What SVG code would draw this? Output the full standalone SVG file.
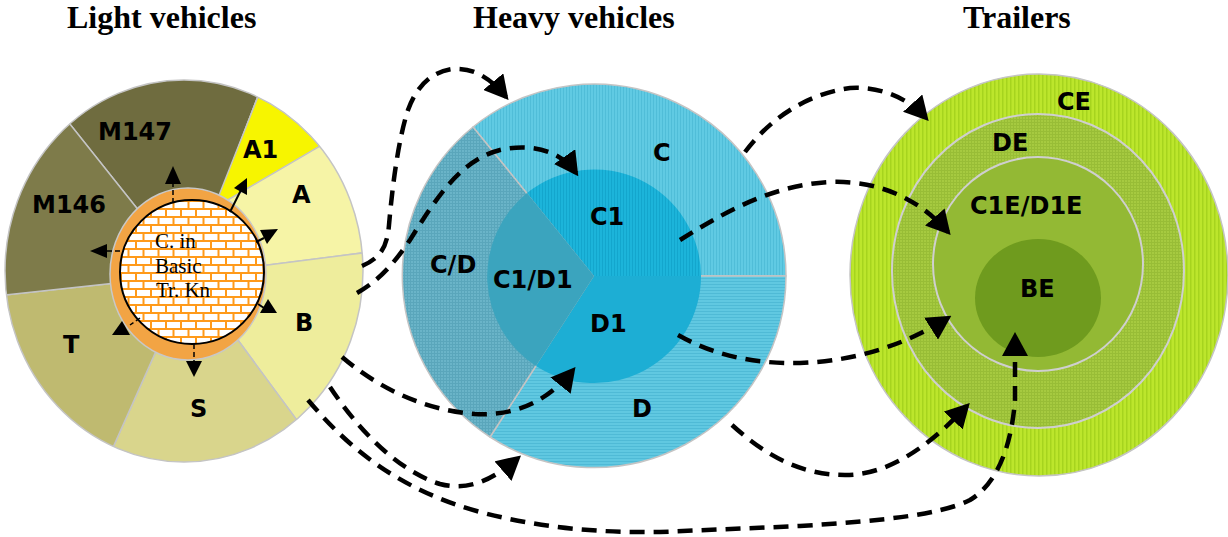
<svg xmlns="http://www.w3.org/2000/svg" width="1228" height="537" viewBox="0 0 1228 537">
<style>
.title{font-family:"Liberation Serif","Times New Roman",serif;font-weight:bold;font-size:32px;fill:#000}
.lbl{font-family:"DejaVu Sans",Verdana,sans-serif;font-weight:bold;font-size:24px;fill:#000}
.inner{font-family:"Liberation Serif","Times New Roman",serif;font-size:21px;fill:#000}
.sec{stroke:#c4c4c4;stroke-width:1.5;stroke-linejoin:round}
.conn{fill:none;stroke:#000;stroke-width:4.5;stroke-dasharray:15 9}
.small{fill:none;stroke:#000;stroke-width:1.5;stroke-dasharray:5 3}
.solid{fill:none;stroke:#000;stroke-width:2}
.head{fill:#000}
</style>
<defs>
<marker id="arr" viewBox="0 0 24 26" markerWidth="24" markerHeight="26" refX="20" refY="13" orient="auto" markerUnits="userSpaceOnUse">
<path d="M0,0 L24,13 L0,26 Z" fill="#000"/>
</marker>
<clipPath id="lvclip">
<ellipse cx="184" cy="271" rx="179" ry="191"/>
</clipPath>
<pattern id="brick" width="15" height="16" patternUnits="userSpaceOnUse">
<rect width="15" height="16" fill="#fff"/>
<path d="M0,1 H15 M0,9 H15 M1,1 V9 M8.5,9 V16" stroke="#ff9a1a" stroke-width="2" fill="none"/>
</pattern>
<pattern id="pC" width="3" height="3" patternUnits="userSpaceOnUse">
<rect width="3" height="3" fill="#60cae3"/><rect x="2" width="1" height="3" fill="#50bdd8"/>
</pattern>
<pattern id="pD" width="3" height="3" patternUnits="userSpaceOnUse">
<rect width="3" height="3" fill="#60c8e1"/><rect y="2" width="3" height="1" fill="#4fbad6"/>
</pattern>
<pattern id="pCD" width="3" height="3" patternUnits="userSpaceOnUse">
<rect width="3" height="3" fill="#6ab4c8"/><path d="M0,2.5 H3 M2.5,0 V3" stroke="#5aa6bb" stroke-width="1"/>
</pattern>
<pattern id="pC1" width="3" height="3" patternUnits="userSpaceOnUse">
<rect width="3" height="3" fill="#1cb4da"/><rect x="2" width="1" height="3" fill="#13a6cd"/>
</pattern>
<pattern id="pCE" width="4" height="4" patternUnits="userSpaceOnUse">
<rect width="4" height="4" fill="#bce62c"/><rect x="2" width="1.5" height="4" fill="#a6d41e"/>
</pattern>
<pattern id="pDE" width="3" height="3" patternUnits="userSpaceOnUse">
<rect width="3" height="3" fill="#a6ca40"/><path d="M0,2.5 H3 M2.5,0 V3" stroke="#98bd36" stroke-width="1"/>
</pattern>
</defs>

<rect width="1228" height="537" fill="#fff"/>

<g id="titles">
<text class="title" x="67" y="28">Light vehicles</text>
<text class="title" x="473" y="28">Heavy vehicles</text>
<text class="title" x="963" y="28">Trailers</text>
</g>

<g id="light-vehicles">
<g clip-path="url(#lvclip)">
<path id="M147" class="sec" fill="#6f6c3f" d="M190,275 L7,45 L290,12 Z"/>
<path id="A" class="sec" fill="#f6f4a6" d="M190,275 L290,12 L448,242 Z"/>
<path id="A1" class="sec" fill="#f7f500" d="M214,208 L278,46 L368,118 Z"/>
<path id="B" class="sec" fill="#eeed9c" d="M190,275 L448,242 L352,495 Z"/>
<path id="S" class="sec" fill="#d9d58c" d="M190,275 L352,495 L73,537 Z"/>
<path id="T" class="sec" fill="#bfba70" d="M190,275 L73,537 L-88,305 Z"/>
<path id="M146" class="sec" fill="#7e7b4a" d="M190,275 L-88,305 L7,45 Z"/>
</g>
<ellipse cx="184" cy="271" rx="179" ry="191" fill="none" stroke="#c4c4c4" stroke-width="1.5"/>
<ellipse cx="188" cy="274" rx="78" ry="86" fill="#f2a444" stroke="#c8c8c8" stroke-width="1.5"/>
<circle cx="192" cy="272" r="72" fill="url(#brick)" stroke="#000" stroke-width="2"/>
<text class="inner" x="155" y="248">C. in</text>
<text class="inner" x="155" y="273">Basic</text>
<text class="inner" x="156" y="297">Tr. Kn</text>
<text class="lbl" x="98" y="140">M147</text>
<text class="lbl" x="243" y="158">A1</text>
<text class="lbl" x="292" y="203">A</text>
<text class="lbl" x="32" y="213">M146</text>
<text class="lbl" x="295" y="331">B</text>
<text class="lbl" x="63" y="353">T</text>
<text class="lbl" x="190" y="417">S</text>
</g>

<g id="inner-arrows">
<path class="small" d="M173,203 V184"/>
<polygon class="head" points="165,184 181,184 173,166"/>
<path class="solid" d="M230,212 L241,190"/>
<polygon class="head" points="247,178 247,195 234,188"/>
<path class="solid" d="M256,242 L264,238"/>
<polygon class="head" points="260,230 278,229 267,244"/>
<path class="solid" d="M258,304 L264,308"/>
<polygon class="head" points="260,313 268,299 277,313"/>
<path class="small" d="M120,251 H107"/>
<polygon class="head" points="90,251 107,244 107,258"/>
<path class="small" d="M140,318 L130,325"/>
<polygon class="head" points="112,335 122,321 130,335"/>
<path class="small" d="M194,344 V362"/>
<polygon class="head" points="186,361 202,361 194,377"/>
</g>

<g id="heavy-vehicles">
<path id="C" class="sec" fill="url(#pC)" d="M594,276 L473,127 A192,192 0 0 1 786,276 Z"/>
<path id="D" class="sec" fill="url(#pD)" d="M594,276 L786,276 A192,192 0 0 1 490,437 Z"/>
<path id="CD" class="sec" fill="url(#pCD)" d="M594,276 L490,437 A192,192 0 0 1 473,127 Z"/>
<path id="C1" fill="url(#pC1)" d="M594,276 L527,193 A107,107 0 0 1 701,276 Z"/>
<path id="D1" fill="#1daed4" d="M594,276 L701,276 A107,107 0 0 1 536,366 Z"/>
<path id="C1D1" fill="#3ba4be" d="M594,276 L536,366 A107,107 0 0 1 527,193 Z"/>
<text class="lbl" x="653" y="161">C</text>
<text class="lbl" x="590" y="225">C1</text>
<text class="lbl" x="430" y="273">C/D</text>
<text class="lbl" x="493" y="288">C1/D1</text>
<text class="lbl" x="590" y="332">D1</text>
<text class="lbl" x="632" y="417">D</text>
</g>

<g id="trailers">
<ellipse id="CE" cx="1039" cy="275" rx="189" ry="201" fill="url(#pCE)" stroke="#c4c4c4" stroke-width="1.5"/>
<ellipse id="DE" cx="1038" cy="271" rx="146" ry="157" fill="url(#pDE)" stroke="#cfcfcf" stroke-width="2"/>
<ellipse id="C1E" cx="1038" cy="264" rx="105" ry="107" fill="#93b934" stroke="#cfcfcf" stroke-width="2"/>
<ellipse id="BE" cx="1038" cy="298" rx="63" ry="59" fill="#6f9b1e"/>
<text class="lbl" x="1057" y="110">CE</text>
<text class="lbl" x="992" y="151">DE</text>
<text class="lbl" x="970" y="214">C1E/D1E</text>
<text class="lbl" x="1020" y="297">BE</text>
</g>

<g id="connectors">
<path class="conn" marker-end="url(#arr)" d="M362,266 C380,258 387,248 389,225 C392,190 398,140 408,110 C416,88 430,72 452,69 C475,67 492,80 506,97"/>
<path class="conn" marker-end="url(#arr)" d="M357,293 C380,280 395,262 410,240 C435,200 460,160 500,150 C530,143 560,150 576,173"/>
<path class="conn" marker-end="url(#arr)" d="M342,357 C375,385 420,410 475,414 C510,416 545,405 573,370"/>
<path class="conn" marker-end="url(#arr)" d="M330,387 C355,425 395,470 440,484 C470,492 495,478 518,458"/>
<path class="conn" marker-end="url(#arr)" d="M308,400 C350,450 400,490 480,512 C540,528 600,533 660,532 L800,526 C880,521 940,515 970,500 C1000,482 1012,440 1015,400 L1015,336"/>
<path class="conn" marker-end="url(#arr)" d="M732,425 C765,455 800,475 845,475 C890,475 930,445 967,406"/>
<path class="conn" marker-end="url(#arr)" d="M678,335 C712,354 750,364 800,363 C860,361 910,342 948,318"/>
<path class="conn" marker-end="url(#arr)" d="M680,240 C720,215 770,185 830,182 C880,180 920,200 948,232"/>
<path class="conn" marker-end="url(#arr)" d="M745,152 C765,125 800,95 850,88 C880,86 908,98 926,118"/>
</g>
</svg>
